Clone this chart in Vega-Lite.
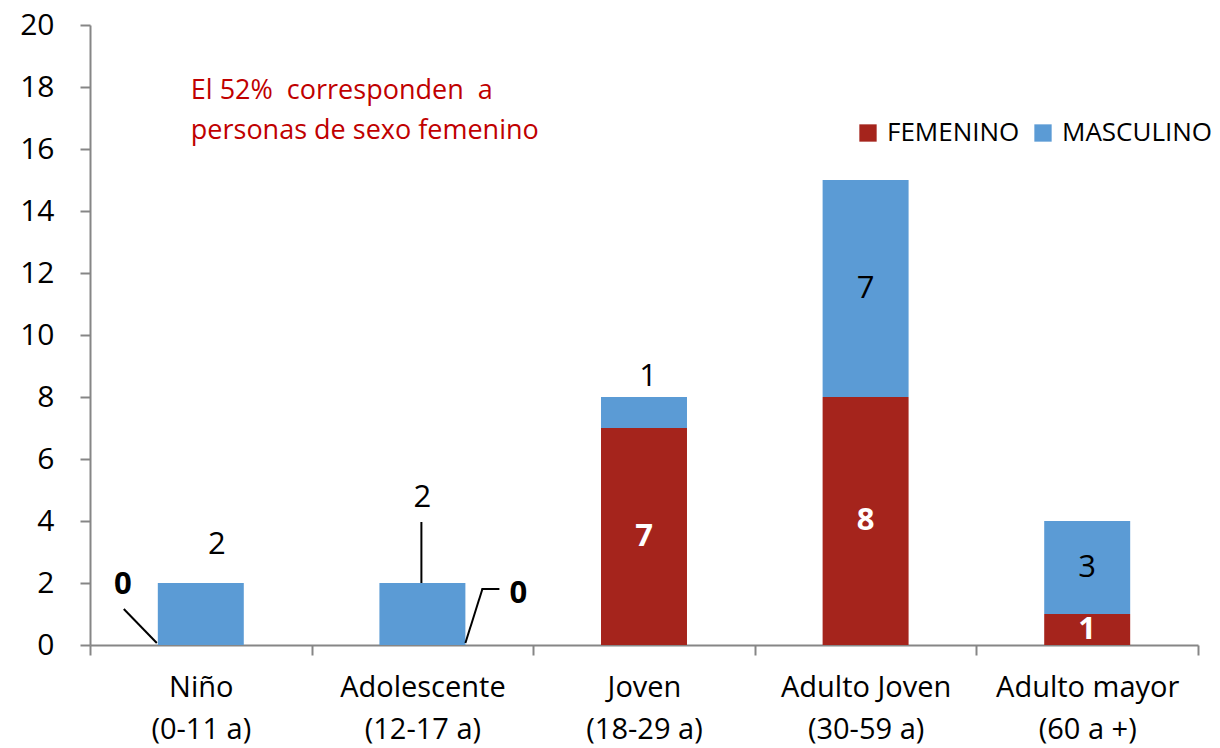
{
  "$schema": "https://vega.github.io/schema/vega-lite/v6.json",
  "width": 1108,
  "height": 620,
  "autosize": {"type": "none"},
  "padding": {"left": 90, "top": 25, "right": 22, "bottom": 103},
  "background": "white",
  "config": {"view": {"stroke": null}, "font": "Open Sans"},
  "data": {
    "values": [
      {"grupo": "Niño|(0-11 a)", "sexo": "FEMENINO", "n": 0},
      {"grupo": "Niño|(0-11 a)", "sexo": "MASCULINO", "n": 2},
      {"grupo": "Adolescente|(12-17 a)", "sexo": "FEMENINO", "n": 0},
      {"grupo": "Adolescente|(12-17 a)", "sexo": "MASCULINO", "n": 2},
      {"grupo": "Joven|(18-29 a)", "sexo": "FEMENINO", "n": 7},
      {"grupo": "Joven|(18-29 a)", "sexo": "MASCULINO", "n": 1},
      {"grupo": "Adulto Joven|(30-59 a)", "sexo": "FEMENINO", "n": 8},
      {"grupo": "Adulto Joven|(30-59 a)", "sexo": "MASCULINO", "n": 7},
      {"grupo": "Adulto mayor|(60 a +)", "sexo": "FEMENINO", "n": 1},
      {"grupo": "Adulto mayor|(60 a +)", "sexo": "MASCULINO", "n": 3}
    ]
  },
  "transform": [
    {"stack": "n", "groupby": ["grupo"], "sort": [{"field": "sexo", "order": "ascending"}], "as": ["y0", "y1"]}
  ],
  "encoding": {
    "x": {
      "field": "grupo",
      "type": "nominal",
      "sort": null,
      "scale": {"type": "band", "paddingInner": 0, "paddingOuter": 0},
      "axis": {
        "title": null,
        "labelExpr": "split(datum.label, '|')",
        "labelAngle": 0,
        "labelLimit": 0,
        "labelFont": "Open Sans",
        "labelFontSize": 29,
        "labelColor": "black",
        "labelPadding": 18,
        "labelLineHeight": 42,
        "tickBand": "extent",
        "tickSize": 10,
        "tickColor": "#868686",
        "tickWidth": 2,
        "domainColor": "#868686",
        "domainWidth": 2,
        "grid": false
      }
    }
  },
  "layer": [
    {
      "mark": {"type": "bar", "width": {"band": 0.388}},
      "encoding": {
        "y": {
          "field": "y0",
          "type": "quantitative",
          "scale": {"domain": [0, 20]},
          "axis": {
            "title": null,
            "values": [0, 2, 4, 6, 8, 10, 12, 14, 16, 18, 20],
            "labelFont": "Open Sans",
            "labelFontSize": 30,
            "labelColor": "black",
            "labelPadding": 26,
            "tickSize": 10,
            "tickColor": "#868686",
            "tickWidth": 2,
            "domainColor": "#868686",
            "domainWidth": 2,
            "grid": false
          }
        },
        "y2": {"field": "y1"},
        "color": {
          "field": "sexo",
          "type": "nominal",
          "scale": {"domain": ["FEMENINO", "MASCULINO"], "range": ["#A5241C", "#5B9BD5"]},
          "legend": {
            "title": null,
            "orient": "none",
            "legendX": 765,
            "legendY": 95,
            "direction": "horizontal",
            "symbolType": "square",
            "symbolSize": 300,
            "symbolStrokeWidth": 0,
            "labelFont": "Open Sans",
            "labelFontSize": 26,
            "labelLimit": 0,
            "labelColor": "black",
            "labelOffset": 6,
            "columnPadding": 10,
            "padding": 0
          }
        }
      }
    },
    {
      "transform": [
        {"filter": "datum.sexo === 'FEMENINO' && datum.n > 0"},
        {"fold": ["y0", "y1"], "as": ["k", "v"]},
        {"aggregate": [{"op": "mean", "field": "v", "as": "mid"}], "groupby": ["grupo", "sexo", "n"]}
      ],
      "mark": {"type": "text", "color": "white", "fontWeight": "bold", "fontSize": 31, "baseline": "middle"},
      "encoding": {
        "y": {"field": "mid", "type": "quantitative"},
        "text": {"field": "n", "type": "quantitative"}
      }
    },
    {
      "transform": [
        {"filter": "datum.sexo === 'MASCULINO' && (datum.grupo === 'Adulto Joven|(30-59 a)' || datum.grupo === 'Adulto mayor|(60 a +)')"},
        {"fold": ["y0", "y1"], "as": ["k", "v"]},
        {"aggregate": [{"op": "mean", "field": "v", "as": "mid"}], "groupby": ["grupo", "sexo", "n"]}
      ],
      "mark": {"type": "text", "color": "black", "fontSize": 31, "baseline": "middle"},
      "encoding": {
        "y": {"field": "mid", "type": "quantitative"},
        "text": {"field": "n", "type": "quantitative"}
      }
    },
    {
      "transform": [{"filter": "datum.sexo === 'MASCULINO' && datum.grupo === 'Niño|(0-11 a)'"}],
      "mark": {"type": "text", "color": "black", "fontSize": 31, "baseline": "middle", "dx": 16, "dy": -38},
      "encoding": {
        "y": {"field": "y1", "type": "quantitative"},
        "text": {"field": "n", "type": "quantitative"}
      }
    },
    {
      "transform": [{"filter": "datum.sexo === 'MASCULINO' && datum.grupo === 'Adolescente|(12-17 a)'"}],
      "mark": {"type": "text", "color": "black", "fontSize": 31, "baseline": "middle", "dx": 0, "dy": -85},
      "encoding": {
        "y": {"field": "y1", "type": "quantitative"},
        "text": {"field": "n", "type": "quantitative"}
      }
    },
    {
      "transform": [{"filter": "datum.sexo === 'MASCULINO' && datum.grupo === 'Joven|(18-29 a)'"}],
      "mark": {"type": "text", "color": "black", "fontSize": 31, "baseline": "middle", "dx": 4, "dy": -20},
      "encoding": {
        "y": {"field": "y1", "type": "quantitative"},
        "text": {"field": "n", "type": "quantitative"}
      }
    },
    {
      "transform": [{"filter": "datum.sexo === 'FEMENINO' && datum.grupo === 'Niño|(0-11 a)'"}],
      "mark": {"type": "text", "color": "black", "fontWeight": "bold", "fontSize": 31, "baseline": "middle", "dx": -78, "dy": -60},
      "encoding": {
        "y": {"field": "y0", "type": "quantitative"},
        "text": {"field": "n", "type": "quantitative"}
      }
    },
    {
      "transform": [{"filter": "datum.sexo === 'FEMENINO' && datum.grupo === 'Adolescente|(12-17 a)'"}],
      "mark": {"type": "text", "color": "black", "fontWeight": "bold", "fontSize": 31, "baseline": "middle", "dx": 96, "dy": -51},
      "encoding": {
        "y": {"field": "y0", "type": "quantitative"},
        "text": {"field": "n", "type": "quantitative"}
      }
    },
    {
      "transform": [{"filter": "datum.sexo === 'FEMENINO' && datum.grupo === 'Niño|(0-11 a)'"}],
      "mark": {"type": "rule", "color": "black", "strokeWidth": 2, "xOffset": -44, "x2Offset": -77, "yOffset": -2, "y2Offset": -36},
      "encoding": {
        "x2": {"field": "grupo"},
        "y": {"field": "y0", "type": "quantitative"},
        "y2": {"field": "y0"}
      }
    },
    {
      "transform": [{"filter": "datum.sexo === 'FEMENINO' && datum.grupo === 'Adolescente|(12-17 a)'"}],
      "mark": {"type": "rule", "color": "black", "strokeWidth": 2, "xOffset": 43, "x2Offset": 60, "yOffset": -2, "y2Offset": -56},
      "encoding": {
        "x2": {"field": "grupo"},
        "y": {"field": "y0", "type": "quantitative"},
        "y2": {"field": "y0"}
      }
    },
    {
      "transform": [{"filter": "datum.sexo === 'FEMENINO' && datum.grupo === 'Adolescente|(12-17 a)'"}],
      "mark": {"type": "rule", "color": "black", "strokeWidth": 2, "xOffset": 59, "x2Offset": 77, "yOffset": -56, "y2Offset": -56},
      "encoding": {
        "x2": {"field": "grupo"},
        "y": {"field": "y0", "type": "quantitative"},
        "y2": {"field": "y0"}
      }
    },
    {
      "transform": [{"filter": "datum.sexo === 'MASCULINO' && datum.grupo === 'Adolescente|(12-17 a)'"}],
      "mark": {"type": "rule", "color": "black", "strokeWidth": 2, "xOffset": -1, "yOffset": 0, "y2Offset": -61},
      "encoding": {
        "y": {"field": "y1", "type": "quantitative"},
        "y2": {"field": "y1"}
      }
    },
    {
      "transform": [{"filter": "datum.sexo === 'FEMENINO' && datum.grupo === 'Niño|(0-11 a)'"}],
      "mark": {
        "type": "text",
        "text": ["El 52%\u00a0 corresponden\u00a0 a", "personas de sexo femenino"],
        "align": "left",
        "baseline": "top",
        "fontSize": 27,
        "lineHeight": 40,
        "color": "#C00000",
        "dx": -10
      },
      "encoding": {
        "y": {"datum": 18.3, "type": "quantitative"}
      }
    }
  ]
}
